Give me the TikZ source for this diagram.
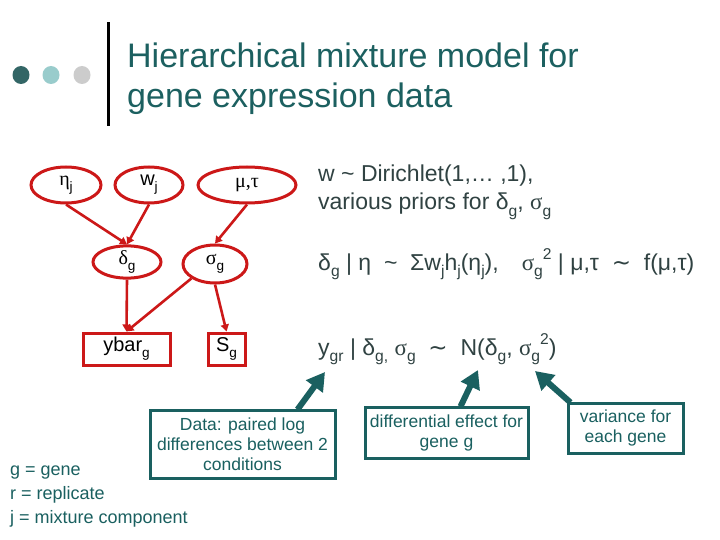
\documentclass[tikz,border=0pt]{standalone}
\usepackage{fontspec}
\setmainfont{Liberation Sans}
\newfontfamily\serifgr{Liberation Serif}
\newfontfamily\symfnt{DejaVu Sans}
\usetikzlibrary{shapes.geometric,arrows.meta,calc}
\definecolor{nodered}{RGB}{204,24,24}
\definecolor{teal1}{RGB}{26,96,96}
\definecolor{titlecol}{RGB}{28,96,96}
\definecolor{txtcol}{RGB}{48,66,66}
\definecolor{dotdark}{RGB}{51,102,102}
\definecolor{dotlight}{RGB}{153,204,204}
\definecolor{dotgray}{RGB}{204,204,204}
\newcommand{\lowtx}[1]{\raisebox{-0.3em}{\scalebox{0.68}{#1}}}
\newcommand{\uptx}[1]{\raisebox{0.45em}{\scalebox{0.68}{#1}}}
\newcommand{\gr}[1]{{\serifgr #1}}
\newcommand{\simsym}{{\symfnt ∼}}
\tikzset{
  gnode/.style={ellipse, draw=nodered, line width=3pt, inner sep=0pt, font=\fontsize{20}{24}\selectfont},
  gbox/.style={rectangle, draw=nodered, line width=3pt, inner sep=0pt, font=\fontsize{20}{24}\selectfont},
  garrow/.style={draw=nodered, line width=2.6pt, -{Triangle[length=7pt,width=8pt]}},
  tbox/.style={rectangle, draw=teal1, line width=3pt, inner sep=0pt, align=center, text=teal1, font=\fontsize{17.5}{20}\selectfont},
  tarrow/.style={draw=teal1, line width=6pt, -{Triangle[length=18pt,width=20pt]}},
  rtext/.style={anchor=base west, inner sep=0pt, text=txtcol, font=\fontsize{23}{27}\selectfont},
  legend/.style={anchor=base west, inner sep=0pt, text=teal1, font=\fontsize{18}{20}\selectfont},
  title/.style={anchor=base west, inner sep=0pt, text=titlecol, font=\fontsize{34}{40}\selectfont},
}
\begin{document}
\begin{tikzpicture}[x=1pt,y=-1pt]
\useasboundingbox[fill=white] (0,0) rectangle (720,540);
% title decoration
\fill[dotdark] (21,75) ellipse (8.5pt and 9pt);
\fill[dotlight] (51,75) ellipse (8.5pt and 9pt);
\fill[dotgray] (82,75) ellipse (8.5pt and 9pt);
\fill[black] (106.5,22) rectangle (110,126);
\node[title] (t1) at (127,68) {Hierarchical mixture model for};
\node[title] (t2) at (127,108) {gene expression data};
% graph
\node[gnode, minimum width=70pt, minimum height=36pt] (eta) at (66,185) {\gr{η}\lowtx{j}};
\node[gnode, minimum width=68pt, minimum height=36pt] (w) at (149,185) {w\lowtx{j}};
\node[gnode, minimum width=98pt, minimum height=36pt] (mt) at (247,185) {\gr{μ,τ}};
\node[gnode, minimum width=68pt, minimum height=32pt] (delta) at (127,262) {\gr{δ}\lowtx{g}};
\node[gnode, minimum width=64pt, minimum height=38pt] (sigma) at (215,264) {\gr{σ}\lowtx{g}};
\node[gbox, minimum width=87pt, minimum height=32pt] (ybar) at (126.5,349) {ybar\lowtx{g}};
\node[gbox, minimum width=37pt, minimum height=32pt] (S) at (226.5,349) {S\lowtx{g}};
\draw[garrow] (eta.south) -- (delta.north);
\draw[garrow] (w.south) -- (delta.north);
\draw[garrow] (mt.south) -- (sigma.north);
\draw[garrow] (delta.south) -- (ybar.north);
\draw[garrow] (sigma.south west) -- (ybar.north);
\draw[garrow] (sigma.south) -- (S.north);
% right-hand formulas
\node[rtext] (f1) at (318,182) {w \textasciitilde{} Dirichlet(1,… ,1),};
\node[rtext] (f2) at (318,210) {various priors for δ\lowtx{g}, \gr{σ}\lowtx{g}};
\node[rtext] (f3) at (318,270) {δ\lowtx{g} | η \ \textasciitilde{} \ Σw\lowtx{j}h\lowtx{j}(η\lowtx{j}),\quad\gr{σ}\lowtx{g}\uptx{2} | μ,τ \ \simsym{} \ f(μ,τ)};
\node[rtext] (f4) at (318,355) {y\lowtx{gr} | δ\lowtx{g,} \gr{σ}\lowtx{g} \ \simsym{} \ N(δ\lowtx{g}, \gr{σ}\lowtx{g}\uptx{2})};
% callouts
\node[tbox, minimum width=185pt, minimum height=68pt] (data) at (242.5,444) {Data: paired log\\differences between 2\\conditions};
\node[tbox, minimum width=163pt, minimum height=51pt] (diff) at (446.5,432.5) {differential effect for\\gene g};
\node[tbox, minimum width=115pt, minimum height=50pt] (var) at (625.5,428) {variance for\\each gene};
\coordinate (tipdata) at (325,372);
\coordinate (tipdiff) at (478,370);
\coordinate (tipvar) at (535,371);
\draw[tarrow] ([xshift=55pt,yshift=-1pt]data.north) -- (tipdata);
\draw[tarrow] ([xshift=14pt,yshift=-1pt]diff.north) -- (tipdiff);
\draw[tarrow] ([xshift=4pt,yshift=-1pt]var.north west) -- (tipvar);
% legend
\node[legend] (l1) at (10,475) {g = gene};
\node[legend] (l2) at (10,499) {r = replicate};
\node[legend] (l3) at (10,523) {j = mixture component};
\end{tikzpicture}
\end{document}
